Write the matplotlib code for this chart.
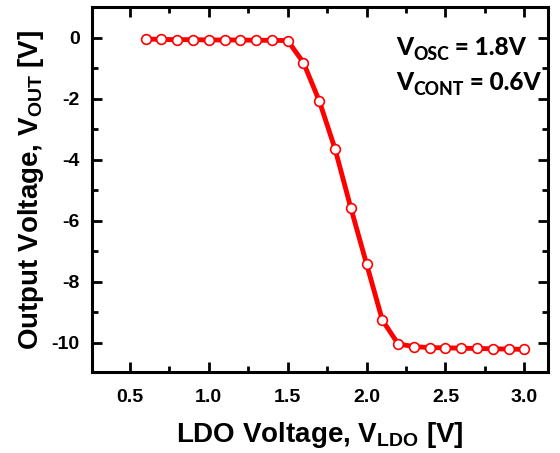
import matplotlib.pyplot as plt
from matplotlib.ticker import MultipleLocator

main_font = ['Liberation Sans', 'DejaVu Sans']
ann_font = ['Lato', 'DejaVu Sans']
plt.rcParams['font.family'] = main_font
plt.rcParams['font.weight'] = 'bold'

# Data
v_ldo = [0.6, 0.7, 0.8, 0.9, 1.0, 1.1, 1.2, 1.3, 1.4, 1.5,
         1.6, 1.7, 1.8, 1.9, 2.0, 2.1, 2.2, 2.3, 2.4, 2.5,
         2.6, 2.7, 2.8, 2.9, 3.0]
v_out = [-0.05, -0.06, -0.07, -0.07, -0.08, -0.08, -0.08, -0.09, -0.09, -0.1,
         -0.82, -2.07, -3.64, -5.57, -7.41, -9.25, -10.03, -10.12, -10.15, -10.16,
         -10.17, -10.18, -10.19, -10.2, -10.21]

fig = plt.figure(figsize=(5.6, 4.53), dpi=100)
ax = fig.add_axes([92/560, 1 - 372/453, (548-92)/560, (372-7)/453])

ax.plot(v_ldo, v_out, color='red', lw=3.5, marker='o', ms=7,
        mfc='white', mec='red', mew=1.2)

ax.set_xlim(0.26, 3.15)
ax.set_ylim(-10.95, 1.0)
ax.xaxis.set_major_locator(MultipleLocator(0.5))
ax.xaxis.set_minor_locator(MultipleLocator(0.25))
ax.yaxis.set_major_locator(MultipleLocator(2))
ax.yaxis.set_minor_locator(MultipleLocator(1))
ax.xaxis.set_major_formatter(plt.FuncFormatter(lambda v, p: f'{v:.1f}'))
ax.yaxis.set_major_formatter(plt.FuncFormatter(lambda v, p: f'{v:.0f}'))
ax.tick_params(which='both', direction='in', top=True, right=True, width=2)
ax.tick_params(which='major', length=7, labelsize=14)
ax.tick_params(axis='x', which='major', pad=12)
ax.tick_params(axis='y', which='major', pad=9)
ax.tick_params(which='minor', length=4)
for s in ax.spines.values():
    s.set_linewidth(2.2)
for lab in ax.get_xticklabels() + ax.get_yticklabels():
    lab.set_fontweight('bold')


def sub_label(ax, x, y, parts, size, family):
    # text with a subscript, drawn piece by piece, left aligned at axes (x, y) baseline
    fig = ax.figure
    fig.canvas.draw()
    r = fig.canvas.get_renderer()
    x0, y0 = ax.transAxes.transform((x, y))
    cx = x0
    for txt, is_sub in parts:
        fs = size * 0.72 if is_sub else size
        t = ax.text(cx, y0 - (5 if is_sub else 0), txt, fontsize=fs,
                    fontweight='black', family=family, transform=None,
                    va='baseline', ha='left')
        cx += t.get_window_extent(renderer=r).width


ax.set_xlabel(r'LDO Voltage, V$_{\mathregular{LDO}}$ [V]', fontsize=20,
              fontweight='bold', labelpad=10, family=main_font)
ax.set_ylabel(r'Output Voltage, V$_{\mathregular{OUT}}$ [V]', fontsize=20,
              fontweight='bold', labelpad=4, family=main_font)

sub_label(ax, 0.668, 0.868, [('V', False), ('OSC', True), (' = 1.8V', False)], 17.6, ann_font)
sub_label(ax, 0.668, 0.773, [('V', False), ('CONT', True), (' = 0.6V', False)], 17.6, ann_font)

plt.savefig('out.png', dpi=100)
